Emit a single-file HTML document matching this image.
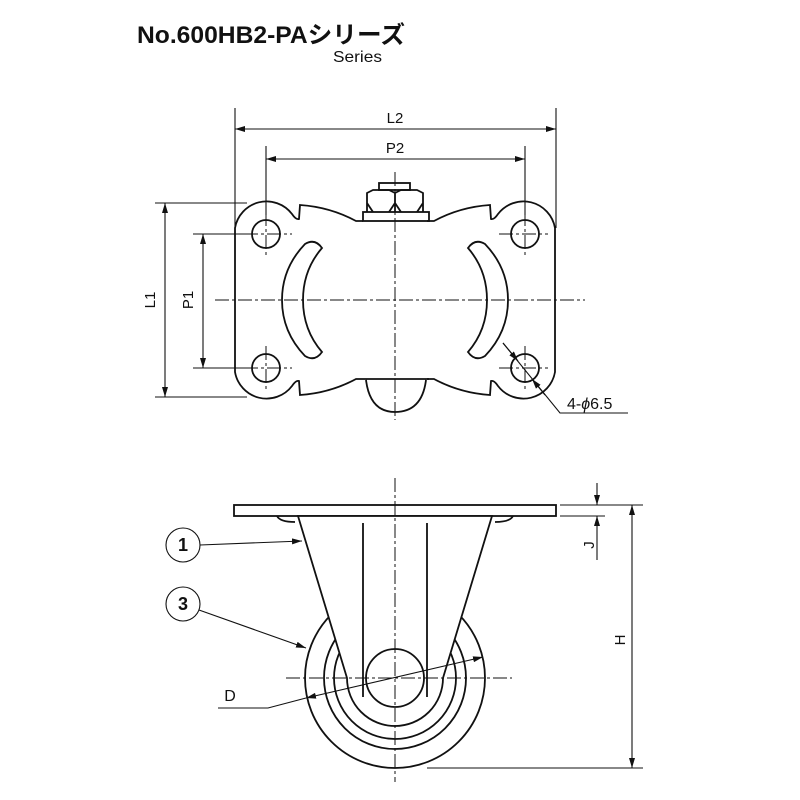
<!DOCTYPE html>
<html><head><meta charset="utf-8"><style>
html,body{margin:0;padding:0;background:#fff;}
svg{display:block;}
text{font-family:"Liberation Sans","Noto Sans CJK JP",sans-serif;fill:#111;}
</style></head><body>
<svg width="800" height="800" viewBox="0 0 800 800" xmlns="http://www.w3.org/2000/svg">
<defs>
<marker id="a" viewBox="0 0 10 6" refX="10" refY="3" markerWidth="10" markerHeight="6" orient="auto-start-reverse" markerUnits="userSpaceOnUse"><path d="M0,0 L10,3 L0,6 z" fill="#111"/></marker>
<path id="q" d="M235,300 L235,228 A32,32 0 0 1 292,214 Q296,220 299,219 L300,205 Q330,207 356,221 L363,221"/>
</defs>
<text x="137" y="43" font-size="24" font-weight="bold" textLength="268" lengthAdjust="spacingAndGlyphs">No.600HB2-PAシリーズ</text>
<text x="333" y="62" font-size="16" textLength="49" lengthAdjust="spacingAndGlyphs">Series</text>

<g fill="none" stroke="#111" stroke-width="1.1">
<line x1="235" y1="108" x2="235" y2="228"/>
<line x1="556" y1="108" x2="556" y2="228"/>
<line x1="266" y1="146" x2="266" y2="215"/>
<line x1="525" y1="146" x2="525" y2="215"/>
<line x1="235" y1="129" x2="556" y2="129" marker-start="url(#a)" marker-end="url(#a)"/>
<line x1="266" y1="159" x2="525" y2="159" marker-start="url(#a)" marker-end="url(#a)"/>
<line x1="155" y1="203" x2="247" y2="203"/>
<line x1="155" y1="397" x2="247" y2="397"/>
<line x1="193" y1="234" x2="245" y2="234"/>
<line x1="193" y1="368" x2="245" y2="368"/>
<line x1="165" y1="203" x2="165" y2="397" marker-start="url(#a)" marker-end="url(#a)"/>
<line x1="203" y1="234" x2="203" y2="368" marker-start="url(#a)" marker-end="url(#a)"/>
<polyline points="503,343 560,413 628,413"/>
</g>
<g fill="none" stroke="#111" stroke-width="1.1">
<line x1="503" y1="343" x2="518" y2="361" marker-end="url(#a)"/>
<line x1="545" y1="395" x2="532" y2="379" marker-end="url(#a)"/>
</g>
<text x="395" y="123" font-size="15" text-anchor="middle">L2</text>
<text x="395" y="153" font-size="15" text-anchor="middle">P2</text>
<text transform="translate(155,300) rotate(-90)" font-size="15" text-anchor="middle">L1</text>
<text transform="translate(193,300) rotate(-90)" font-size="15" text-anchor="middle">P1</text>
<text x="567" y="409" font-size="16">4-<tspan font-style="italic">ϕ</tspan>6.5</text>

<g fill="none" stroke="#111" stroke-width="1.8">
<use href="#q"/>
<use href="#q" transform="translate(790,0) scale(-1,1)"/>
<use href="#q" transform="translate(0,600) scale(1,-1)"/>
<use href="#q" transform="translate(790,600) scale(-1,-1)"/>
<circle cx="266" cy="234" r="14"/><circle cx="525" cy="234" r="14"/>
<circle cx="266" cy="368" r="14"/><circle cx="525" cy="368" r="14"/>
<path d="M322,248 Q315,238 305,244 Q282,268 282,300 Q282,332 305,356 Q315,362 322,352 Q303,330 303,300 Q303,270 322,248 Z"/>
<path d="M468,248 Q475,238 485,244 Q508,268 508,300 Q508,332 485,356 Q475,362 468,352 Q487,330 487,300 Q487,270 468,248 Z"/>
<rect x="363" y="212" width="66" height="9"/>
<path d="M367,212 L367,193 L373,190 L389,190 L395,193 L395,212 M395,193 L401,190 L417,190 L423,193 L423,212 M367,203 L373,212 M395,203 L389,212 M395,203 L401,212 M423,203 L417,212"/>
<rect x="379" y="183" width="31" height="7"/>
<path d="M363,379 L429,379 M366,380 Q370,412 395,412 Q422,412 426,380"/>
</g>
<g stroke="#111" stroke-width="1" stroke-dasharray="14,3,3,3" fill="none">
<line x1="395" y1="172" x2="395" y2="420"/>
<line x1="215" y1="300" x2="585" y2="300"/>
<line x1="244" y1="234" x2="292" y2="234"/><line x1="499" y1="234" x2="548" y2="234"/>
<line x1="244" y1="368" x2="292" y2="368"/><line x1="499" y1="368" x2="548" y2="368"/>
<line x1="266" y1="212" x2="266" y2="258"/><line x1="525" y1="212" x2="525" y2="258"/>
<line x1="266" y1="346" x2="266" y2="390"/><line x1="525" y1="346" x2="525" y2="390"/>
</g>

<g fill="#fff" stroke="#111" stroke-width="1.8">
<circle cx="395" cy="678" r="90"/>
<circle cx="395" cy="678" r="71" fill="none"/>
<circle cx="395" cy="678" r="61" fill="none"/>
<rect x="234" y="505" width="322" height="11"/>
<path d="M277,516 Q280,522 295,522 M513,516 Q510,522 495,522" fill="none"/>
<path d="M298,516 L347,678 A48,48 0 0 0 443,678 L492,516 Z"/>
<line x1="363" y1="523" x2="363" y2="697"/>
<line x1="427" y1="523" x2="427" y2="697"/>
<circle cx="395" cy="678" r="29"/>
</g>
<g stroke="#111" stroke-width="1" stroke-dasharray="14,3,3,3" fill="none">
<line x1="395" y1="478" x2="395" y2="782"/>
<line x1="286" y1="678" x2="512" y2="678"/>
</g>
<g fill="none" stroke="#111" stroke-width="1.1">
<line x1="560" y1="505" x2="643" y2="505"/>
<line x1="560" y1="516" x2="605" y2="516"/>
<line x1="597" y1="483" x2="597" y2="505" marker-end="url(#a)"/>
<line x1="597" y1="560" x2="597" y2="516" marker-end="url(#a)"/>
<line x1="632" y1="505" x2="632" y2="768" marker-start="url(#a)" marker-end="url(#a)"/>
<line x1="427" y1="768" x2="643" y2="768"/>
<line x1="200" y1="545" x2="302" y2="541" marker-end="url(#a)"/>
<line x1="199" y1="610" x2="306" y2="648" marker-end="url(#a)"/>
<line x1="306" y1="698" x2="483" y2="657" marker-start="url(#a)" marker-end="url(#a)"/>
<polyline points="218,708 268,708 306,698"/>
<circle cx="183" cy="545" r="17"/>
<circle cx="183" cy="604" r="17"/>
</g>
<text x="183" y="551" font-size="18" font-weight="bold" text-anchor="middle">1</text>
<text x="183" y="610" font-size="18" font-weight="bold" text-anchor="middle">3</text>
<text x="230" y="701" font-size="16" text-anchor="middle">D</text>
<text transform="translate(594,545) rotate(-90)" font-size="15" text-anchor="middle">J</text>
<text transform="translate(625,640) rotate(-90)" font-size="15" text-anchor="middle">H</text>
</svg>
</body></html>
